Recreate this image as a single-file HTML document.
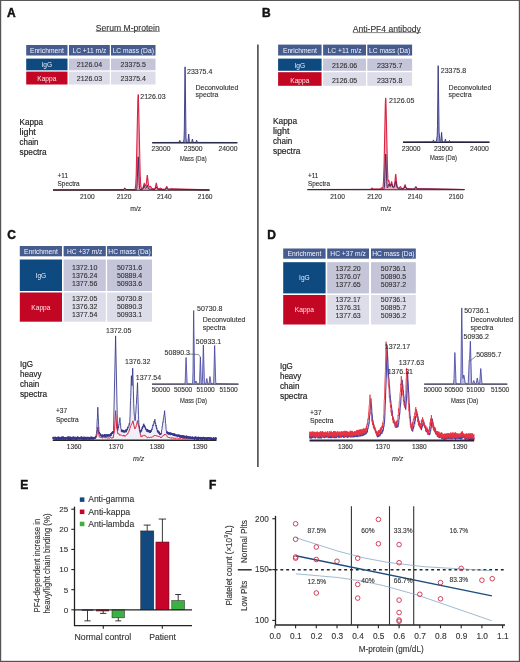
<!DOCTYPE html>
<html><head><meta charset="utf-8"><style>
html,body{margin:0;padding:0;background:#fff;}
body{width:520px;height:662px;overflow:hidden;}
svg{position:absolute;left:0;top:0;will-change:transform;}
text{font-family:"Liberation Sans", sans-serif;}
</style></head><body>
<svg width="520" height="662" viewBox="0 0 520 662">
<rect x="0.00" y="0.00" width="520.00" height="662.00" fill="#fff"/>
<text x="7.00" y="17.00" font-size="12" fill="#111" font-weight="bold" stroke="#111" stroke-width="0.45">A</text>
<text x="262.00" y="17.00" font-size="12" fill="#111" font-weight="bold" stroke="#111" stroke-width="0.45">B</text>
<text x="7.30" y="239.30" font-size="12" fill="#111" font-weight="bold" stroke="#111" stroke-width="0.45">C</text>
<text x="267.30" y="239.30" font-size="12" fill="#111" font-weight="bold" stroke="#111" stroke-width="0.45">D</text>
<text x="20.30" y="488.80" font-size="12" fill="#111" font-weight="bold" stroke="#111" stroke-width="0.45">E</text>
<text x="209.00" y="489.00" font-size="12" fill="#111" font-weight="bold" stroke="#111" stroke-width="0.45">F</text>
<text x="95.80" y="30.70" font-size="8.7" fill="#333" textLength="64" lengthAdjust="spacingAndGlyphs" stroke="#333" stroke-width="0.12">Serum M-protein</text>
<line x1="95.80" y1="31.40" x2="159.70" y2="31.40" stroke="#555" stroke-width="0.7"/>
<text x="352.80" y="31.80" font-size="8.7" fill="#333" textLength="68" lengthAdjust="spacingAndGlyphs" stroke="#333" stroke-width="0.12">Anti-PF4 antibody</text>
<line x1="352.80" y1="32.60" x2="421.00" y2="32.60" stroke="#555" stroke-width="0.7"/>
<line x1="257.90" y1="44.50" x2="257.90" y2="467.00" stroke="#3e3e3e" stroke-width="1.5"/>
<rect x="26.20" y="45.00" width="41.30" height="10.50" fill="#465b8e"/>
<text x="46.85" y="52.75" font-size="6.7" fill="#f4f6ff" text-anchor="middle">Enrichment</text>
<rect x="69.00" y="45.00" width="40.80" height="10.50" fill="#465b8e"/>
<text x="89.40" y="52.75" font-size="6.7" fill="#f4f6ff" text-anchor="middle">LC +11 m/z</text>
<rect x="111.00" y="45.00" width="44.50" height="10.50" fill="#465b8e"/>
<text x="133.25" y="52.75" font-size="6.7" fill="#f4f6ff" text-anchor="middle">LC mass (Da)</text>
<rect x="26.20" y="58.60" width="41.30" height="11.70" fill="#0e4a80"/>
<rect x="26.20" y="71.60" width="41.30" height="12.90" fill="#c20624"/>
<rect x="69.00" y="58.60" width="40.80" height="11.70" fill="#c4c5d8"/>
<rect x="69.00" y="71.60" width="40.80" height="12.90" fill="#dcdde9"/>
<rect x="111.00" y="58.60" width="44.50" height="11.70" fill="#c4c5d8"/>
<rect x="111.00" y="71.60" width="44.50" height="12.90" fill="#dcdde9"/>
<text x="46.85" y="66.95" font-size="6.6" fill="#e4ecfa" text-anchor="middle">IgG</text>
<text x="46.85" y="80.55" font-size="6.6" fill="#fde8ea" text-anchor="middle">Kappa</text>
<text x="89.40" y="66.95" font-size="7" fill="#333" text-anchor="middle" stroke="#333" stroke-width="0.12">2126.04</text>
<text x="89.40" y="80.55" font-size="7" fill="#333" text-anchor="middle" stroke="#333" stroke-width="0.12">2126.03</text>
<text x="133.25" y="66.95" font-size="7" fill="#333" text-anchor="middle" stroke="#333" stroke-width="0.12">23375.5</text>
<text x="133.25" y="80.55" font-size="7" fill="#333" text-anchor="middle" stroke="#333" stroke-width="0.12">23375.4</text>
<rect x="278.10" y="44.60" width="43.50" height="10.90" fill="#465b8e"/>
<text x="299.85" y="52.55" font-size="6.7" fill="#f4f6ff" text-anchor="middle">Enrichment</text>
<rect x="323.10" y="44.60" width="42.90" height="10.90" fill="#465b8e"/>
<text x="344.55" y="52.55" font-size="6.7" fill="#f4f6ff" text-anchor="middle">LC +11 m/z</text>
<rect x="367.30" y="44.60" width="44.80" height="10.90" fill="#465b8e"/>
<text x="389.70" y="52.55" font-size="6.7" fill="#f4f6ff" text-anchor="middle">LC mass (Da)</text>
<rect x="278.10" y="58.60" width="43.50" height="12.20" fill="#0e4a80"/>
<rect x="278.10" y="72.20" width="43.50" height="13.60" fill="#c20624"/>
<rect x="323.10" y="58.60" width="42.90" height="12.20" fill="#c4c5d8"/>
<rect x="323.10" y="72.20" width="42.90" height="13.60" fill="#dcdde9"/>
<rect x="367.30" y="58.60" width="44.80" height="12.20" fill="#c4c5d8"/>
<rect x="367.30" y="72.20" width="44.80" height="13.60" fill="#dcdde9"/>
<text x="299.85" y="67.90" font-size="6.6" fill="#e4ecfa" text-anchor="middle">IgG</text>
<text x="299.85" y="82.70" font-size="6.6" fill="#fde8ea" text-anchor="middle">Kappa</text>
<text x="344.55" y="67.90" font-size="7" fill="#333" text-anchor="middle" stroke="#333" stroke-width="0.12">2126.06</text>
<text x="344.55" y="82.70" font-size="7" fill="#333" text-anchor="middle" stroke="#333" stroke-width="0.12">2126.05</text>
<text x="389.70" y="67.90" font-size="7" fill="#333" text-anchor="middle" stroke="#333" stroke-width="0.12">23375.7</text>
<text x="389.70" y="82.70" font-size="7" fill="#333" text-anchor="middle" stroke="#333" stroke-width="0.12">23375.8</text>
<rect x="19.80" y="246.00" width="42.20" height="10.30" fill="#465b8e"/>
<text x="40.90" y="253.65" font-size="6.7" fill="#f4f6ff" text-anchor="middle">Enrichment</text>
<rect x="63.60" y="246.00" width="42.20" height="10.30" fill="#465b8e"/>
<text x="84.70" y="253.65" font-size="6.7" fill="#f4f6ff" text-anchor="middle">HC +37 m/z</text>
<rect x="107.10" y="246.00" width="44.90" height="10.30" fill="#465b8e"/>
<text x="129.55" y="253.65" font-size="6.7" fill="#f4f6ff" text-anchor="middle">HC mass (Da)</text>
<rect x="19.80" y="259.50" width="42.20" height="31.50" fill="#0e4a80"/>
<rect x="19.80" y="292.50" width="42.20" height="29.20" fill="#c20624"/>
<rect x="63.60" y="259.50" width="42.20" height="31.50" fill="#c4c5d8"/>
<rect x="63.60" y="292.50" width="42.20" height="29.20" fill="#dcdde9"/>
<rect x="107.10" y="259.50" width="44.90" height="31.50" fill="#c4c5d8"/>
<rect x="107.10" y="292.50" width="44.90" height="29.20" fill="#dcdde9"/>
<text x="40.90" y="277.75" font-size="6.6" fill="#e4ecfa" text-anchor="middle">IgG</text>
<text x="40.90" y="309.60" font-size="6.6" fill="#fde8ea" text-anchor="middle">Kappa</text>
<text x="84.70" y="269.50" font-size="7" fill="#333" text-anchor="middle" stroke="#333" stroke-width="0.12">1372.10</text>
<text x="84.70" y="301.20" font-size="7" fill="#333" text-anchor="middle" stroke="#333" stroke-width="0.12">1372.05</text>
<text x="84.70" y="277.80" font-size="7" fill="#333" text-anchor="middle" stroke="#333" stroke-width="0.12">1376.24</text>
<text x="84.70" y="309.40" font-size="7" fill="#333" text-anchor="middle" stroke="#333" stroke-width="0.12">1376.32</text>
<text x="84.70" y="286.00" font-size="7" fill="#333" text-anchor="middle" stroke="#333" stroke-width="0.12">1377.56</text>
<text x="84.70" y="317.20" font-size="7" fill="#333" text-anchor="middle" stroke="#333" stroke-width="0.12">1377.54</text>
<text x="129.55" y="269.50" font-size="7" fill="#333" text-anchor="middle" stroke="#333" stroke-width="0.12">50731.6</text>
<text x="129.55" y="301.20" font-size="7" fill="#333" text-anchor="middle" stroke="#333" stroke-width="0.12">50730.8</text>
<text x="129.55" y="277.80" font-size="7" fill="#333" text-anchor="middle" stroke="#333" stroke-width="0.12">50889.4</text>
<text x="129.55" y="309.40" font-size="7" fill="#333" text-anchor="middle" stroke="#333" stroke-width="0.12">50890.3</text>
<text x="129.55" y="286.00" font-size="7" fill="#333" text-anchor="middle" stroke="#333" stroke-width="0.12">50933.6</text>
<text x="129.55" y="317.20" font-size="7" fill="#333" text-anchor="middle" stroke="#333" stroke-width="0.12">50933.1</text>
<rect x="283.20" y="248.50" width="42.40" height="10.20" fill="#465b8e"/>
<text x="304.40" y="256.10" font-size="6.7" fill="#f4f6ff" text-anchor="middle">Enrichment</text>
<rect x="327.20" y="248.50" width="41.80" height="10.20" fill="#465b8e"/>
<text x="348.10" y="256.10" font-size="6.7" fill="#f4f6ff" text-anchor="middle">HC +37 m/z</text>
<rect x="371.00" y="248.50" width="44.80" height="10.20" fill="#465b8e"/>
<text x="393.40" y="256.10" font-size="6.7" fill="#f4f6ff" text-anchor="middle">HC mass (Da)</text>
<rect x="283.20" y="262.20" width="42.40" height="31.20" fill="#0e4a80"/>
<rect x="283.20" y="295.00" width="42.40" height="29.50" fill="#c20624"/>
<rect x="327.20" y="262.20" width="41.80" height="31.20" fill="#c4c5d8"/>
<rect x="327.20" y="295.00" width="41.80" height="29.50" fill="#dcdde9"/>
<rect x="371.00" y="262.20" width="44.80" height="31.20" fill="#c4c5d8"/>
<rect x="371.00" y="295.00" width="44.80" height="29.50" fill="#dcdde9"/>
<text x="304.40" y="280.30" font-size="6.6" fill="#e4ecfa" text-anchor="middle">IgG</text>
<text x="304.40" y="312.25" font-size="6.6" fill="#fde8ea" text-anchor="middle">Kappa</text>
<text x="348.10" y="271.30" font-size="7" fill="#333" text-anchor="middle" stroke="#333" stroke-width="0.12">1372.20</text>
<text x="348.10" y="302.20" font-size="7" fill="#333" text-anchor="middle" stroke="#333" stroke-width="0.12">1372.17</text>
<text x="348.10" y="279.20" font-size="7" fill="#333" text-anchor="middle" stroke="#333" stroke-width="0.12">1376.07</text>
<text x="348.10" y="310.30" font-size="7" fill="#333" text-anchor="middle" stroke="#333" stroke-width="0.12">1376.31</text>
<text x="348.10" y="287.20" font-size="7" fill="#333" text-anchor="middle" stroke="#333" stroke-width="0.12">1377.65</text>
<text x="348.10" y="318.20" font-size="7" fill="#333" text-anchor="middle" stroke="#333" stroke-width="0.12">1377.63</text>
<text x="393.40" y="271.30" font-size="7" fill="#333" text-anchor="middle" stroke="#333" stroke-width="0.12">50736.1</text>
<text x="393.40" y="302.20" font-size="7" fill="#333" text-anchor="middle" stroke="#333" stroke-width="0.12">50736.1</text>
<text x="393.40" y="279.20" font-size="7" fill="#333" text-anchor="middle" stroke="#333" stroke-width="0.12">50890.5</text>
<text x="393.40" y="310.30" font-size="7" fill="#333" text-anchor="middle" stroke="#333" stroke-width="0.12">50895.7</text>
<text x="393.40" y="287.20" font-size="7" fill="#333" text-anchor="middle" stroke="#333" stroke-width="0.12">50937.2</text>
<text x="393.40" y="318.20" font-size="7" fill="#333" text-anchor="middle" stroke="#333" stroke-width="0.12">50936.2</text>
<text x="19.60" y="124.70" font-size="8.4" fill="#222" textLength="23.5" lengthAdjust="spacingAndGlyphs" stroke="#222" stroke-width="0.18">Kappa</text>
<text x="19.60" y="134.70" font-size="8.4" fill="#222" textLength="16.2" lengthAdjust="spacingAndGlyphs" stroke="#222" stroke-width="0.18">light</text>
<text x="19.60" y="144.70" font-size="8.4" fill="#222" textLength="18.9" lengthAdjust="spacingAndGlyphs" stroke="#222" stroke-width="0.18">chain</text>
<text x="19.60" y="154.70" font-size="8.4" fill="#222" textLength="27.1" lengthAdjust="spacingAndGlyphs" stroke="#222" stroke-width="0.18">spectra</text>
<text x="273.00" y="124.40" font-size="8.4" fill="#222" textLength="24" lengthAdjust="spacingAndGlyphs" stroke="#222" stroke-width="0.18">Kappa</text>
<text x="273.00" y="134.40" font-size="8.4" fill="#222" textLength="16.4" lengthAdjust="spacingAndGlyphs" stroke="#222" stroke-width="0.18">light</text>
<text x="273.00" y="144.40" font-size="8.4" fill="#222" textLength="19.1" lengthAdjust="spacingAndGlyphs" stroke="#222" stroke-width="0.18">chain</text>
<text x="273.00" y="154.40" font-size="8.4" fill="#222" textLength="27.3" lengthAdjust="spacingAndGlyphs" stroke="#222" stroke-width="0.18">spectra</text>
<text x="20.00" y="366.90" font-size="8.4" fill="#222" textLength="13" lengthAdjust="spacingAndGlyphs" stroke="#222" stroke-width="0.18">IgG</text>
<text x="20.00" y="376.90" font-size="8.4" fill="#222" textLength="21.5" lengthAdjust="spacingAndGlyphs" stroke="#222" stroke-width="0.18">heavy</text>
<text x="20.00" y="386.90" font-size="8.4" fill="#222" textLength="19.2" lengthAdjust="spacingAndGlyphs" stroke="#222" stroke-width="0.18">chain</text>
<text x="20.00" y="396.90" font-size="8.4" fill="#222" textLength="27" lengthAdjust="spacingAndGlyphs" stroke="#222" stroke-width="0.18">spectra</text>
<text x="280.00" y="369.20" font-size="8.4" fill="#222" textLength="12.8" lengthAdjust="spacingAndGlyphs" stroke="#222" stroke-width="0.18">IgG</text>
<text x="280.00" y="379.20" font-size="8.4" fill="#222" textLength="21.3" lengthAdjust="spacingAndGlyphs" stroke="#222" stroke-width="0.18">heavy</text>
<text x="280.00" y="389.20" font-size="8.4" fill="#222" textLength="19.4" lengthAdjust="spacingAndGlyphs" stroke="#222" stroke-width="0.18">chain</text>
<text x="280.00" y="399.20" font-size="8.4" fill="#222" textLength="27.4" lengthAdjust="spacingAndGlyphs" stroke="#222" stroke-width="0.18">spectra</text>
<text x="57.60" y="177.60" font-size="6.4" fill="#2e2e2e" stroke="#2e2e2e" stroke-width="0.12">+11</text>
<text x="57.60" y="185.70" font-size="6.4" fill="#2e2e2e" stroke="#2e2e2e" stroke-width="0.12">Spectra</text>
<text x="308.00" y="177.50" font-size="6.4" fill="#2e2e2e" stroke="#2e2e2e" stroke-width="0.12">+11</text>
<text x="308.00" y="185.60" font-size="6.4" fill="#2e2e2e" stroke="#2e2e2e" stroke-width="0.12">Spectra</text>
<text x="55.90" y="413.30" font-size="6.6" fill="#2e2e2e" stroke="#2e2e2e" stroke-width="0.12">+37</text>
<text x="55.90" y="421.50" font-size="6.6" fill="#2e2e2e" stroke="#2e2e2e" stroke-width="0.12">Spectra</text>
<text x="310.00" y="414.80" font-size="6.8" fill="#2e2e2e" stroke="#2e2e2e" stroke-width="0.12">+37</text>
<text x="310.00" y="423.10" font-size="6.8" fill="#2e2e2e" stroke="#2e2e2e" stroke-width="0.12">Spectra</text>
<path d="M53 189.9L123.4 189.6L124 189.2L124.6 188.2L124.8 188.1L125.8 189.4L134.2 189.7L134.6 189.6L135 189L135.4 187.5L135.8 183.6L136.2 175.5L137.8 101.4L138 96.2L138.2 94.4L138.4 96.1L140.2 175.2L140.6 183.2L141 187L141.4 188.4L141.6 188.7L142 188.8L142.6 188.3L143.2 187.2L144 183.9L144.2 183.4L144.4 183.6L145 185.5L145.2 185.9L145.4 186L145.6 185.9L146 185L146.4 182.9L147.2 175.5L147.4 175.5L148.4 184.3L148.8 185.9L149.2 186.6L149.6 186.8L150.4 186.3L150.6 186.4L151.8 188.3L153 188.9L154.2 188.8L154.8 188.4L155.2 187.7L155.8 185.3L156.2 183.2L156.4 183.2L157.2 187.1L157.8 188.4L158.6 188.9L159.4 188.8L160.4 188.1L160.8 188.2L162.2 189.2L164.6 189.3L165.4 188.8L166 187.9L166.6 186.6L166.8 186.6L167.8 188.6L168.6 189.2L169.8 189.2L171 188.7L209.4 189.9 L209.5,190.2 L53,190.2 Z" stroke="none" stroke-width="1" fill="#f4aabb"/>
<path d="M53 189.9L123.4 189.6L124 189.2L124.6 188.2L124.8 188.1L125.8 189.4L134.2 189.7L134.6 189.6L135 189L135.4 187.5L135.8 183.6L136.2 175.5L137.8 101.4L138 96.2L138.2 94.4L138.4 96.1L140.2 175.2L140.6 183.2L141 187L141.4 188.4L141.6 188.7L142 188.8L142.6 188.3L143.2 187.2L144 183.9L144.2 183.4L144.4 183.6L145 185.5L145.2 185.9L145.4 186L145.6 185.9L146 185L146.4 182.9L147.2 175.5L147.4 175.5L148.4 184.3L148.8 185.9L149.2 186.6L149.6 186.8L150.4 186.3L150.6 186.4L151.8 188.3L153 188.9L154.2 188.8L154.8 188.4L155.2 187.7L155.8 185.3L156.2 183.2L156.4 183.2L157.2 187.1L157.8 188.4L158.6 188.9L159.4 188.8L160.4 188.1L160.8 188.2L162.2 189.2L164.6 189.3L165.4 188.8L166 187.9L166.6 186.6L166.8 186.6L167.8 188.6L168.6 189.2L169.8 189.2L171 188.7L209.4 189.9" stroke="#dc2444" stroke-width="1.1" fill="none"/>
<path d="M53 189.9L123.4 189.7L124 189.3L124.8 188.4L125.8 189.5L136.2 189.8L136.4 189.6L136.6 189.2L136.8 188.3L137.2 182.9L138 158.8L138.2 156.8L138.4 158.8L139.2 182.9L139.6 188.2L139.8 189.1L140 189.5L142 189.4L142.8 189L143.4 188L144 186L144.2 185.7L144.4 185.9L145 187.8L145.4 188.3L145.8 188.4L146.2 188.1L146.6 187.3L147.2 185.3L147.4 185.3L148.2 188.1L148.8 189L154 189.6L155 189.2L155.6 188.3L156.2 186.9L156.4 186.9L157.2 188.7L158 189.4L164.8 189.6L165.6 189.2L166.6 187.9L166.8 187.9L167.8 189.2L209.4 189.9" stroke="#3a2058" stroke-width="0.9" fill="none"/>
<line x1="53.00" y1="190.20" x2="209.50" y2="190.20" stroke="#3a2830" stroke-width="1.1"/>
<path d="M307.5 189.5L370.7 189.2L371.5 188.7L371.9 188.2L372.1 188.1L373.3 189.1L379.9 189.1L380.7 188.6L381.3 187.9L381.5 187.8L382.3 188.3L382.5 188.2L382.7 187.9L383.1 186L383.5 181.3L384.1 164.4L385.3 105L385.5 99.7L385.7 97.8L385.9 99.6L387.5 169.8L387.9 178.4L388.1 180.5L388.3 181.3L388.5 181.3L388.7 180.9L388.9 180.8L389.9 185.1L390.1 185.4L390.3 185.5L390.5 185.4L390.9 184.3L391.5 181.8L391.7 181.8L392.5 185.4L392.9 186.3L393.3 186.7L393.7 186.6L394.1 186L394.5 184.6L394.9 182L395.5 175.2L395.7 174.2L395.9 175.3L396.7 183.8L397.3 186.4L397.9 187.5L398.7 188L399.3 187.9L400.3 186.7L400.5 186.8L401.5 188.2L402.5 188.6L403.3 188.4L403.9 187.8L404.9 185.1L405.1 184.9L405.3 185.1L406.1 187.6L406.9 188.6L413.5 189.1L414.5 188.6L415.7 186.9L415.9 186.7L416.1 186.9L417.1 188.5L464.5 189.5 L464.5,189.8 L307.5,189.8 Z" stroke="none" stroke-width="1" fill="#f4aabb"/>
<path d="M307.5 189.5L370.7 189.2L371.5 188.7L371.9 188.2L372.1 188.1L373.3 189.1L379.9 189.1L380.7 188.6L381.3 187.9L381.5 187.8L382.3 188.3L382.5 188.2L382.7 187.9L383.1 186L383.5 181.3L384.1 164.4L385.3 105L385.5 99.7L385.7 97.8L385.9 99.6L387.5 169.8L387.9 178.4L388.1 180.5L388.3 181.3L388.5 181.3L388.7 180.9L388.9 180.8L389.9 185.1L390.1 185.4L390.3 185.5L390.5 185.4L390.9 184.3L391.5 181.8L391.7 181.8L392.5 185.4L392.9 186.3L393.3 186.7L393.7 186.6L394.1 186L394.5 184.6L394.9 182L395.5 175.2L395.7 174.2L395.9 175.3L396.7 183.8L397.3 186.4L397.9 187.5L398.7 188L399.3 187.9L400.3 186.7L400.5 186.8L401.5 188.2L402.5 188.6L403.3 188.4L403.9 187.8L404.9 185.1L405.1 184.9L405.3 185.1L406.1 187.6L406.9 188.6L413.5 189.1L414.5 188.6L415.7 186.9L415.9 186.7L416.1 186.9L417.1 188.5L464.5 189.5" stroke="#dc2444" stroke-width="1.1" fill="none"/>
<path d="M307.5 189.5L383.5 189.3L383.9 189.1L384.1 188.6L384.3 187.6L384.7 181.9L385.5 156.2L385.7 154.1L385.9 156.1L386.7 181.4L387.1 186.8L387.3 187.6L387.5 187.8L387.7 187.6L388.3 185.9L388.7 184.3L388.9 184L389.1 184.2L389.7 186.1L390.1 186.7L390.3 186.7L390.7 186.3L391.5 183.9L391.7 183.9L392.7 187.1L393.1 187.6L393.5 187.7L393.9 187.6L394.3 187.2L394.7 186.2L395.5 181.7L395.7 181.2L395.9 181.8L396.7 186.4L397.3 187.9L398.5 188.8L402.9 189L403.7 188.6L404.3 187.9L404.9 186.6L405.1 186.4L405.3 186.6L406.1 188.2L407.1 189L413.9 189.1L414.9 188.6L415.7 187.6L415.9 187.5L417.3 188.9L464.5 189.5" stroke="#3a2058" stroke-width="0.9" fill="none"/>
<line x1="307.50" y1="189.80" x2="464.50" y2="189.80" stroke="#3a2830" stroke-width="1.1"/>
<text x="87.30" y="199.20" font-size="6.6" fill="#333" text-anchor="middle" stroke="#333" stroke-width="0.12">2100</text>
<text x="124.00" y="199.20" font-size="6.6" fill="#333" text-anchor="middle" stroke="#333" stroke-width="0.12">2120</text>
<text x="164.30" y="199.20" font-size="6.6" fill="#333" text-anchor="middle" stroke="#333" stroke-width="0.12">2140</text>
<text x="205.20" y="199.20" font-size="6.6" fill="#333" text-anchor="middle" stroke="#333" stroke-width="0.12">2160</text>
<text x="337.50" y="199.20" font-size="6.6" fill="#333" text-anchor="middle" stroke="#333" stroke-width="0.12">2100</text>
<text x="374.50" y="199.20" font-size="6.6" fill="#333" text-anchor="middle" stroke="#333" stroke-width="0.12">2120</text>
<text x="415.00" y="199.20" font-size="6.6" fill="#333" text-anchor="middle" stroke="#333" stroke-width="0.12">2140</text>
<text x="456.00" y="199.20" font-size="6.6" fill="#333" text-anchor="middle" stroke="#333" stroke-width="0.12">2160</text>
<text x="135.80" y="210.60" font-size="6.8" fill="#333" text-anchor="middle" stroke="#333" stroke-width="0.12">m/z</text>
<text x="386.00" y="210.60" font-size="6.8" fill="#333" text-anchor="middle" stroke="#333" stroke-width="0.12">m/z</text>
<text x="140.30" y="99.00" font-size="7" fill="#333" stroke="#333" stroke-width="0.12">2126.03</text>
<line x1="138.50" y1="95.00" x2="138.50" y2="98.00" stroke="#c02040" stroke-width="0.8"/>
<text x="389.00" y="102.60" font-size="7" fill="#333" stroke="#333" stroke-width="0.12">2126.05</text>
<path d="M152.2 142.5L179 142.4L179.8 140.3L180.6 142.4L183.3 142.4L183.6 141.9L184 138.7L184.3 130.5L185 69.2L185.1 66.8L186 137.3L186.3 141.9L186.6 142.5L187.7 142.4L187.9 142.1L188.7 134L189.4 141.7L189.7 142.4L191.5 142.4L191.8 141.9L192.3 139.2L192.4 139L193.2 142.4L195.8 142.4L196.6 140.3L197.4 142.4L237.3 142.5 L237.3,142.9 L152.2,142.9 Z" stroke="none" stroke-width="1" fill="#9a9ad0"/>
<path d="M152.2 142.5L179 142.4L179.8 140.3L180.6 142.4L183.3 142.4L183.6 141.9L184 138.7L184.3 130.5L185 69.2L185.1 66.8L186 137.3L186.3 141.9L186.6 142.5L187.7 142.4L187.9 142.1L188.7 134L189.4 141.7L189.7 142.4L191.5 142.4L191.8 141.9L192.3 139.2L192.4 139L193.2 142.4L195.8 142.4L196.6 140.3L197.4 142.4L237.3 142.5" stroke="#2c2c7a" stroke-width="0.85" fill="none"/>
<line x1="152.20" y1="142.90" x2="237.30" y2="142.90" stroke="#23233a" stroke-width="1.3"/>
<text x="161.00" y="151.10" font-size="6.8" fill="#333" text-anchor="middle" stroke="#333" stroke-width="0.12">23000</text>
<text x="193.20" y="151.10" font-size="6.8" fill="#333" text-anchor="middle" stroke="#333" stroke-width="0.12">23500</text>
<text x="228.00" y="151.10" font-size="6.8" fill="#333" text-anchor="middle" stroke="#333" stroke-width="0.12">24000</text>
<text x="193.30" y="160.50" font-size="7.2" fill="#333" text-anchor="middle" textLength="26.6" lengthAdjust="spacingAndGlyphs" stroke="#333" stroke-width="0.12">Mass (Da)</text>
<path d="M403 141.9L432.7 141.8L433.5 139.9L434.3 141.8L436.1 141.8L436.4 141.2L437.2 135.8L437.5 125.7L438.1 68.2L438.2 65.7L439.1 132.2L440 141.4L440.3 141.9L440.6 141.8L440.8 141.5L441.6 132.4L442.3 141.1L442.6 141.8L444.5 141.9L444.8 141.4L445.3 139.3L445.4 139.2L446.2 141.8L448.7 141.8L449.5 140.4L450.3 141.8L489.5 141.9 L489.5,142.3 L403,142.3 Z" stroke="none" stroke-width="1" fill="#9a9ad0"/>
<path d="M403 141.9L432.7 141.8L433.5 139.9L434.3 141.8L436.1 141.8L436.4 141.2L437.2 135.8L437.5 125.7L438.1 68.2L438.2 65.7L439.1 132.2L440 141.4L440.3 141.9L440.6 141.8L440.8 141.5L441.6 132.4L442.3 141.1L442.6 141.8L444.5 141.9L444.8 141.4L445.3 139.3L445.4 139.2L446.2 141.8L448.7 141.8L449.5 140.4L450.3 141.8L489.5 141.9" stroke="#2c2c7a" stroke-width="0.85" fill="none"/>
<line x1="403.00" y1="142.30" x2="489.50" y2="142.30" stroke="#23233a" stroke-width="1.3"/>
<text x="411.20" y="150.50" font-size="6.8" fill="#333" text-anchor="middle" stroke="#333" stroke-width="0.12">23000</text>
<text x="443.40" y="150.50" font-size="6.8" fill="#333" text-anchor="middle" stroke="#333" stroke-width="0.12">23500</text>
<text x="479.40" y="150.50" font-size="6.8" fill="#333" text-anchor="middle" stroke="#333" stroke-width="0.12">24000</text>
<text x="443.50" y="159.90" font-size="7.2" fill="#333" text-anchor="middle" textLength="27" lengthAdjust="spacingAndGlyphs" stroke="#333" stroke-width="0.12">Mass (Da)</text>
<text x="187.00" y="73.70" font-size="7" fill="#333" stroke="#333" stroke-width="0.12">23375.4</text>
<text x="440.80" y="72.90" font-size="7" fill="#333" stroke="#333" stroke-width="0.12">23375.8</text>
<text x="195.50" y="89.60" font-size="7" fill="#333" stroke="#333" stroke-width="0.12">Deconvoluted</text>
<text x="195.50" y="97.20" font-size="7" fill="#333" stroke="#333" stroke-width="0.12">spectra</text>
<text x="448.60" y="89.60" font-size="7" fill="#333" stroke="#333" stroke-width="0.12">Deconvoluted</text>
<text x="448.60" y="97.20" font-size="7" fill="#333" stroke="#333" stroke-width="0.12">spectra</text>
<path d="M52.7 437.6L95 437.6L96.5 434.3L97.8 407.8L99 431.3L101 435.3L110 434.8L113.5 431.3L115.6 336.5L117.5 429.3L118.8 425.3L119.9 418.3L121.2 430.3L125 431.3L127 429.3L128.5 426.3L129.8 422.3L131.4 376.3L132 386.3L132.7 368.8L134 411.3L135 421.3L136.2 406.3L137.5 383.3L138.8 422.8L140.3 432.1L143.8 424.3L146.5 429.8L151 431.3L154.9 419.8L157.2 430.5L161 434.3L164.6 411.3L166.5 432.1L191.8 437.5L216.3 438.3 L216.5,440.1 L52.7,440.1 Z" stroke="none" stroke-width="1" fill="#efeff8"/>
<path d="M52.7 438.8L53.1 438.7L53.5 439L53.9 438.8L54.3 438.7L54.7 439L55.1 439.5L55.9 439.4L56.3 438.8L56.7 439.1L57.1 438.9L57.9 438.7L58.3 438.8L58.7 439.5L59.9 439.4L60.3 438.8L60.7 438.9L61.1 439.2L62.3 439.5L62.7 438.7L63.1 439.2L63.5 439.3L63.9 439.1L64.3 438.8L64.7 439.1L65.1 438.7L65.5 439.5L65.9 439.5L66.7 438.9L67.1 439.5L67.5 439.2L67.9 439.5L68.3 439.4L68.7 439.1L69.1 439L69.5 439.2L70.3 438.8L70.7 438.9L71.1 439.4L71.5 438.6L71.9 438.6L72.3 439.2L72.7 438.9L73.1 439.1L73.9 438.9L74.3 439.6L74.7 438.8L75.1 439L75.5 438.8L75.9 439.2L76.3 438.9L76.7 439L77.1 439.3L77.5 438.9L78.3 439.5L78.7 438.7L79.1 438.7L79.5 438.8L79.9 439.4L80.3 439.2L80.7 438.8L81.1 438.9L81.5 438.8L81.9 439.1L82.3 438.6L82.7 439.3L83.1 439.5L83.5 439.6L83.9 439.3L84.3 439.6L84.7 438.6L85.1 438.9L85.5 439.6L85.9 439.4L86.3 439L86.7 439.5L87.1 439.2L87.5 439.4L87.9 438.9L88.3 438.8L88.7 439L89.1 438.7L89.5 439L89.9 439.6L90.3 438.9L90.7 438.6L91.5 438.8L91.9 439.4L92.3 439L93.1 438.7L93.5 439.6L93.9 439L94.7 438.7L95 438.7L95.5 438L95.9 438L96.3 436.9L96.8 436L97.8 427L98.3 429.7L99.2 436.8L99.5 436.6L99.9 437.5L100.3 437.3L100.7 437.3L101 437.7L101.5 437.3L101.9 437.7L102.3 437.5L102.7 438.2L103.1 438.1L103.9 437.3L104.3 437.6L105.5 437.5L105.9 438.2L106.3 437.4L106.7 437.4L107.1 438.2L107.5 437.9L107.9 438.3L108.3 437.7L108.7 438.2L109.1 438L109.5 438.1L109.9 438L110.7 437.4L111.1 437.5L111.5 438.2L112.3 438.2L112.7 437.6L113 438L114.5 430.8L115.6 410.7L116.8 429L117.1 429.3L117.5 431.9L118 434L118.3 433.9L118.7 433.6L119.1 434.7L119.5 434.3L120 435.5L120.7 434.7L121.1 434.9L121.5 435.4L121.9 435.4L122.7 436L123.1 435.3L123.5 435.2L123.9 436.2L124.3 435.4L124.7 436.3L125 435.6L125.5 435.9L126.3 435.3L126.7 434.6L127.1 434.6L127.5 433.6L128 433.7L128.3 432.5L128.7 432L129.9 428.5L130.3 426.9L130.7 425.8L131 425.6L131.5 424.3L131.9 423.8L132.7 421.2L133 420.8L133.9 425.5L134.7 428.8L135.1 428.8L135.5 428.1L135.9 427L136.3 425.3L136.7 424.2L137.5 420.6L138.3 425.2L138.7 426.3L139.9 432.5L140.7 435.4L141 437.1L141.5 436.7L141.9 435.8L142.3 436.4L142.7 435.5L143.1 435.5L143.5 435.8L143.9 435.2L144.2 435.4L144.7 435.2L145.1 436.2L145.5 435.8L145.9 436.1L146.3 436.8L146.7 436.9L147.5 437.9L147.9 437.7L148.3 437L149.1 437.5L149.5 437.5L149.9 437.7L150.3 437.5L150.7 437.1L151.5 437.5L151.9 436.8L152.3 437L152.7 436.9L153.1 436.3L153.9 435.8L154.3 435.3L154.9 435.5L155.1 435.1L155.5 435.7L155.9 435.3L156.3 436L157.5 436.1L157.9 435.9L158.3 436.7L158.7 436.5L159.1 436.9L159.5 436.5L160.3 436.9L160.7 437.7L161 437.2L161.5 437.5L161.9 436.6L162.3 436.5L162.7 436L163.1 435.9L163.5 435L163.9 435L164.3 435.2L164.9 434L165.1 434.6L165.5 434.6L165.9 434.9L166.3 435L166.7 435.3L167.1 436.6L168.3 437.4L168.8 438L169.1 437.2L169.5 437.7L169.9 437.6L170.3 437.7L170.7 438.2L171.1 438L171.5 438.3L171.9 437.5L172.3 438L173.1 438.2L173.5 438.1L173.9 438.4L174.3 437.9L174.7 438.6L175 438.1L175.5 438.3L175.9 438.6L176.3 438.4L176.7 438L177.1 437.9L177.5 438L178.3 438.7L178.7 438.6L179.1 438.1L179.5 438.1L179.9 438.6L180.3 438L180.7 438.2L181.1 437.8L181.5 437.9L181.9 438.3L182.3 438.4L182.7 438.4L183.1 438.1L183.5 438.7L184.3 437.9L184.7 437.8L185.1 438.7L185.9 438.7L187.1 437.9L187.5 438L187.9 438L188.3 438.7L189.1 438.6L189.5 438L190.3 438.1L190.7 438.8L191.1 438L191.5 438.6L192.3 438.4L192.7 438.8L193.1 438.1L193.5 438.4L193.9 438L194.7 437.9L195.1 438.2L195.5 438L195.9 437.9L196.3 438.8L196.7 438.1L197.1 438.7L197.5 438.6L198.3 438.5L198.7 438.8L199.9 438.4L200.7 438.6L201.5 438.4L201.9 438L202.3 438.7L203.1 438L203.5 438.1L203.9 438.8L204.3 438.2L204.7 438.3L205.5 438.8L205.9 438.3L206.7 438.4L207.1 438L207.5 438.8L207.9 438L208.3 438.9L208.7 438.1L209.1 438.1L209.5 438.8L209.9 438.8L210.3 438.2L210.7 438.5L211.1 438.4L211.5 438.7L211.9 438.2L212.3 438.8L212.7 439L213.1 438.7L213.5 438.9L213.9 438.9L214.3 438.4L214.7 438.8L215.1 438.8L215.5 438.6L215.9 438.1L216.3 438.6" stroke="#e2203c" stroke-width="1.0" fill="none"/>
<path d="M52.7 437L53 438.8L53.3 436.9L53.6 439L53.9 436.9L54.2 439.3L54.5 437.3L54.8 438.6L55.1 436.6L55.4 438.8L55.7 437.2L56 439.7L56.3 437L56.6 439.5L56.9 437L57.2 439.3L57.5 437.3L57.8 439.3L58.1 436.6L58.4 439.2L58.7 436.7L59 439.3L59.3 437.3L59.6 439.4L59.9 436.9L60.2 438.9L60.5 437.4L60.8 439.5L61.1 437L61.4 439.4L61.7 436.6L62 439.4L62.3 436.6L62.6 439L62.9 436.7L63.2 439.1L63.5 436.6L63.8 439.6L64.1 437.3L64.4 438.7L64.7 437.2L65 439.7L65.3 437L65.6 439.3L65.9 437.1L66.2 439.1L66.5 437.1L66.8 439L67.1 436.9L67.4 439.2L67.7 436.6L68 439.3L68.3 436.6L68.6 439.5L68.9 436.5L69.2 439.3L69.5 437.3L69.8 439.5L70.1 436.5L70.4 439.6L70.7 436.9L71 439.4L71.3 437.2L71.6 439.5L71.9 436.9L72.2 438.9L72.5 437.3L72.8 439.5L73.1 436.5L73.4 438.7L73.7 436.7L74 439L74.3 437.3L74.6 438.9L74.9 436.7L75.2 439.6L75.5 437.4L75.8 439.3L76.1 437.4L76.4 439.4L76.7 437.1L77 439.6L77.3 436.5L77.6 439.1L77.9 436.5L78.2 438.9L78.5 437.3L78.8 439.2L79.1 437.4L79.4 438.8L79.7 437L80 439.3L80.3 437.3L80.6 438.6L80.9 436.6L81.2 438.9L81.5 436.5L81.8 439.6L82.1 437.1L82.4 439.1L82.7 436.9L83 439.3L83.3 436.9L83.6 439.2L83.9 436.8L84.2 439.6L84.5 436.9L84.8 439L85.1 436.8L85.4 438.8L85.7 437.1L86 439.7L86.3 436.9L86.6 439.2L86.9 437.4L87.2 439L87.5 436.9L87.8 438.6L88.1 436.8L88.4 439.3L88.7 437.3L89 439.3L89.3 437L89.6 439.3L89.9 437.1L90.2 439.4L90.5 436.7L90.8 438.6L91.1 437.3L91.4 439.3L91.7 436.5L92 438.8L92.3 437L92.6 439.2L92.9 437.1L93.2 439L93.5 437.1L93.8 439L94.1 436.9L94.4 438.9L94.7 437.1L95 437L95.3 438.8L95.6 436.1L95.9 437.2L96.2 434.1L96.5 433.7L96.8 429.5L97.1 421.7L97.4 417.8L97.8 407.2L98 412.9L98.3 417.2L98.6 424.9L99.2 433.5L99.5 432L99.8 434.2L100.1 433L100.4 436L100.7 434.1L101 434.7L101.3 437.2L101.6 434.9L101.9 436.6L102.2 434.4L102.5 437.2L102.8 434.6L103.1 436.4L103.4 434.9L103.7 436.7L104 434.8L104.3 437L104.6 434.1L104.9 436.2L105.2 434.6L105.5 436.9L105.8 434.3L106.1 436.9L106.4 434.5L106.7 436.1L107 434.5L107.3 436.8L107.6 434.5L107.9 436.3L108.2 434.3L108.5 436.3L108.8 434.3L109.1 436.9L109.4 434.5L109.7 435.8L110 434.2L110.3 436.5L110.6 433.2L110.9 436L111.2 433L111.5 435.3L111.8 432L112.1 433.9L112.4 431.5L112.7 434L113 431L113.3 433L113.5 430.7L115.6 335.9L117.5 428.7L117.8 430.4L118.1 426.4L118.4 428.1L118.8 424.7L119 425L119.3 421.2L119.6 421.4L119.9 417.7L120.2 422.4L120.5 423L120.8 428.2L121.2 429.7L121.4 431.8L121.7 429.4L122 432.2L122.3 430.1L122.6 431.9L122.9 429.8L123.2 432.3L123.5 430L123.8 432.3L124.1 430.7L124.4 432.7L124.7 430.3L125 430.7L125.3 432.1L125.6 429.8L125.9 432.4L126.2 429.2L126.5 431.7L126.8 429.3L127 428.7L127.4 430.2L127.7 426.9L128 428.3L128.3 426.3L128.5 425.7L128.9 426.3L129.2 423.5L129.5 424.7L129.8 421.7L130.1 414.8L130.5 400.7L130.7 397.6L131.4 375.7L131.6 380.6L132 385.7L132.2 382.4L132.7 368.2L133.4 390.6L133.7 403.4L134 410.7L134.3 415.3L134.6 416.6L135 420.7L135.2 420.1L135.5 414.6L135.8 412.7L136.2 405.7L136.4 404.5L136.7 396.7L137 393.5L137.5 382.7L138.5 415.3L138.8 422.2L139.1 426.4L139.4 426L139.7 429.4L140 429.9L140.6 432.8L140.9 430L141.2 431.9L141.5 428.9L141.8 430.6L142.1 427.3L142.4 428.9L142.7 426.2L143 427.6L143.3 424.6L143.6 426.2L143.8 423.7L144.2 426.9L144.5 425.1L144.8 427.6L145.1 426.3L145.4 429.3L145.7 427.9L146 430.2L146.3 428.8L146.5 429.2L146.9 431.9L147.2 429L147.5 431.5L147.8 429.2L148.1 432.2L148.4 430L148.7 432L149 430.3L149.3 432.6L149.6 430L149.9 432.9L150.2 430.1L150.5 432.9L150.8 430.4L151 430.7L151.4 431.7L151.7 428.9L152 430L152.3 427.3L152.6 427.7L152.9 424.8L153.2 425.8L153.5 423.6L153.8 424.1L154.1 421.2L154.4 422.4L154.9 419.2L155.3 423.6L155.6 422.7L155.9 426.4L156.2 425L156.5 429.2L156.8 427.6L157.2 429.9L157.4 432.3L157.7 430.1L158 432.3L158.3 430.7L158.6 433.4L158.9 431.4L159.2 433.6L159.5 431.9L159.8 435.1L160.1 433.1L160.4 435L160.7 433.3L161 433.7L161.3 434.3L161.6 430L161.9 429.7L162.2 426.2L162.5 426.4L162.8 421.9L163.1 422.3L163.4 418.4L163.7 418.5L164 414.6L164.3 414.6L164.6 410.7L164.9 415.6L165.2 417.2L165.5 423.2L165.8 423.9L166.1 429.5L166.5 431.5L166.7 433.3L167 431.4L167.3 434.2L167.6 431.6L167.9 434.1L168.2 432L168.5 434.4L168.8 432.2L169.1 434.9L169.4 432.6L169.7 434.1L170 432.3L170.3 435.2L170.6 432.7L170.9 434.9L171.2 432.7L171.5 434.8L171.8 433.2L172.1 434.9L172.4 433.1L172.7 435.3L173 433.6L173.3 435.9L173.6 433.2L173.9 435.6L174.2 433.5L174.5 435.9L174.8 433.6L175.1 436.3L175.4 434.3L175.7 436L176 434.7L176.3 436.5L176.6 434.5L176.9 436.3L177.2 434.7L177.5 436.7L177.8 434.5L178 434.9L178.4 436.7L178.7 434.5L179 437.1L179.3 434.9L179.6 437.2L179.9 434.8L180.2 437.7L180.5 435.2L180.8 437.4L181.1 435.1L181.4 437.9L181.7 435.5L182 437.9L182.3 435.1L182.6 437.7L182.9 435.8L183.2 437.5L183.5 435.5L183.8 438.1L184.1 435.3L184.4 438.4L184.7 436.1L185 437.7L185.3 436.1L185.6 437.8L185.9 435.8L186.2 438.6L186.5 435.7L186.8 438L187.1 435.8L187.4 438.2L187.7 436.3L188 438.7L188.3 436.7L188.6 438.1L188.9 436.1L189.2 438.4L189.5 436.6L189.8 438.8L190.1 436.4L190.4 438.3L190.7 436.8L191 438.8L191.3 436.8L191.6 438.7L191.8 436.9L192.2 439.1L192.5 436.5L192.8 438.9L193.1 436.9L193.4 438.6L193.7 437.1L194 439.3L194.3 437.3L194.6 439.6L194.9 436.6L195.2 438.7L195.5 436.6L195.8 439L196.1 436.7L196.4 439.5L196.7 437.2L197 439.4L197.3 436.9L197.6 439.6L197.9 437.3L198.2 439.5L198.5 436.7L198.8 439.5L199.1 437.1L199.4 438.8L199.7 437.1L200 439.1L200.3 436.9L200.6 439.5L200.9 437.1L201.2 439L201.5 437L201.8 439.5L202.1 437.5L202.4 439.8L202.7 437.1L203 439L203.3 436.8L203.6 439L203.9 437.4L204.2 439.7L204.5 437.2L204.8 439.5L205.1 437.1L205.4 439.4L205.7 437.5L206 439.1L206.3 437.7L206.6 439.8L206.9 437.1L207.2 439.6L207.5 437.1L207.8 439.4L208.1 437.6L208.4 439.4L208.7 437.1L209 439.1L209.3 437.4L209.6 439.3L209.9 437.2L210.2 439.5L210.5 437.6L210.8 439.5L211.1 437.4L211.4 440L211.7 437.6L212 440.1L212.3 437.9L212.6 439.4L212.9 437.9L213.2 439.3L213.5 437.3L213.8 440L214.1 437.9L214.4 439.4L214.7 437.7L215 440.1L215.3 437.3L215.6 440.1L215.9 437.5L216.2 439.4L216.5 437.7" stroke="#34348a" stroke-width="0.85" fill="none"/>
<line x1="52.70" y1="440.20" x2="216.50" y2="440.20" stroke="#262626" stroke-width="1.4"/>
<text x="74.20" y="449.00" font-size="6.6" fill="#333" text-anchor="middle" stroke="#333" stroke-width="0.12">1360</text>
<text x="116.00" y="449.00" font-size="6.6" fill="#333" text-anchor="middle" stroke="#333" stroke-width="0.12">1370</text>
<text x="157.20" y="449.00" font-size="6.6" fill="#333" text-anchor="middle" stroke="#333" stroke-width="0.12">1380</text>
<text x="200.00" y="449.00" font-size="6.6" fill="#333" text-anchor="middle" stroke="#333" stroke-width="0.12">1390</text>
<text x="138.60" y="460.60" font-size="7" fill="#333" text-anchor="middle" font-style="italic" stroke="#333" stroke-width="0.12">m/z</text>
<text x="106.00" y="333.10" font-size="7" fill="#333" stroke="#333" stroke-width="0.12">1372.05</text>
<text x="125.00" y="364.40" font-size="7" fill="#333" stroke="#333" stroke-width="0.12">1376.32</text>
<text x="135.80" y="379.60" font-size="7" fill="#333" stroke="#333" stroke-width="0.12">1377.54</text>
<path d="M309.5 435.6L309.8 438.4L310.1 435.5L310.5 435.7L310.7 438.6L311 435.5L311.3 438.6L311.6 436.1L311.9 438L312.2 435.3L312.5 438.2L312.8 435.3L313.1 437.5L313.4 435.7L313.7 437.7L314 435.6L314.3 438.1L314.6 436L314.9 437.6L315.2 435.8L315.5 438.5L315.8 435.4L316.1 437.5L316.4 435.4L316.7 437.5L317 435.5L317.3 437.5L317.6 436L317.9 438.4L318.2 435.8L318.5 437.5L318.8 435.2L319.1 438.4L319.4 435.7L319.7 438.5L320 435.5L320.3 438.1L320.6 435.8L320.9 438.5L321.2 435.4L321.5 438.5L321.8 435.2L322.1 437.6L322.4 435.6L322.7 437.4L323 435.8L323.3 437.3L323.6 435.6L323.9 438L324.2 435.9L324.5 438.1L324.8 435.6L325.1 437.6L325.4 435.2L325.7 437.8L326 435.6L326.3 437.8L326.6 435.3L326.9 437.2L327.2 435L327.5 437.2L327.8 435.2L328.1 438.2L328.4 435.8L328.7 438.1L329 435.5L329.3 437.8L329.6 435.8L329.9 437.1L330.2 435.6L330.5 438.3L330.8 435.6L331.1 438L331.4 435L331.7 438.3L332 435.5L332.3 437.5L332.6 435.3L332.9 438L333.2 435.6L333.5 438L333.8 435.1L334.1 438.1L334.4 435.7L334.7 438.2L335 435.6L335.3 437.4L335.6 435.2L335.9 438.2L336.2 435.4L336.5 438.2L336.8 435.2L337.1 437.4L337.4 435.4L337.7 437.2L338 435.6L338.3 437.1L338.6 435.1L338.9 438.2L339.2 435.5L339.5 437L339.8 434.8L340.1 437.6L340.4 435.3L340.7 437.2L341 435.2L341.3 437.7L341.6 434.9L341.9 437.5L342.2 435.2L342.5 436.9L342.8 434.8L343.1 436.9L343.4 435.1L343.7 437.9L344 435.4L344.3 437.7L344.6 434.7L344.9 437.6L345.2 434.8L345.5 436.9L345.8 435.1L346.1 436.9L346.4 434.7L346.7 437.1L347 435L347.3 438L347.6 434.7L347.9 437.9L348.2 435L348.5 437.3L348.8 434.8L349.1 437.3L349.4 435.1L349.7 437.1L350 435.2L350.3 437.1L350.6 434.5L350.9 437.8L351.2 434.8L351.5 437.2L351.8 435L352.1 436.6L352.4 435L352.7 437.5L353 434.5L353.3 437L353.6 434.6L353.9 437.5L354.2 434.6L354.5 437.3L354.8 434.5L355.1 436.9L355.4 434.6L355.7 436.8L356 434.7L356.3 437L356.6 434.4L356.9 437.1L357.2 434.6L357.5 437.3L357.8 434.2L358.1 436.7L358.4 434.6L358.7 436.5L359 434.3L359.3 436.6L359.6 434L359.9 436.6L360.2 433.7L360.5 436.5L360.8 433.8L361.1 436.1L361.4 433.4L361.7 436.3L362 433.5L362.3 436.1L362.6 433L363 433.2L363.2 435.7L363.5 432.6L363.8 435.7L364.1 432.6L364.4 434.9L364.7 432.6L365 435L365.3 431.7L365.6 434.2L365.9 431.6L366.2 434.2L366.5 431.3L366.8 433.2L367 431.2L367.4 432.1L367.7 428L368 429.3L368.3 425.4L368.6 426.5L369 422.2L369.2 422.5L369.5 416.1L369.8 415.2L370.1 409.4L370.4 407.3L371 398.2L371.3 404.9L371.6 406.8L371.9 413.4L372.2 414.9L372.8 422.3L373.1 421.8L373.4 425.1L373.7 424.8L374 425.7L374.3 428.4L374.6 427.4L374.9 430L375.2 429.1L375.5 431.4L375.8 430.5L376.1 433.4L376.4 431.9L376.7 435.3L377 433.8L377.3 437.3L377.6 435.2L377.9 436.8L378.2 435L378.5 436.9L378.8 434.8L379.1 436.4L379.4 434.2L379.7 436.5L380 434.2L380.3 435.4L380.6 433.1L380.9 434.5L381.2 432.2L381.5 433.8L381.8 431.1L382.1 433.6L382.4 429.9L382.7 431.9L383 429.2L383.3 430.6L383.6 426.3L383.9 427.2L384.2 423.9L384.5 422.2L384.8 417.1L385.1 406.9L385.4 402.3L385.7 391.4L386.3 376.1L386.6 363L386.9 355.2L387.1 345.2L387.5 354.6L387.8 359L388.1 366.9L388.5 372.2L388.7 377.4L389 379.4L389.3 385.7L389.6 387L389.9 393.6L390.1 394.2L390.5 400L390.8 400.6L391.1 405.1L391.4 405.3L391.8 409.2L392 412.6L392.3 412L392.6 417.1L392.9 416L393.2 420L393.4 419.2L393.8 423.2L394.1 421L394.4 423.9L394.7 422.6L395 426.2L395.3 424L395.6 426.8L396 425.7L396.2 427.9L396.5 425.7L396.8 427.7L397.1 425.1L397.4 426.9L397.7 424.4L398 427.2L398.4 424.2L398.6 424L398.9 419.4L399.2 418.6L399.5 413.4L399.8 413.6L400.1 408.2L400.5 404.2L400.7 403.5L401 397.7L401.3 396.3L401.6 389.4L401.9 387.6L402.3 379.7L402.5 384.1L402.8 384.7L403.1 390.4L403.4 390.8L403.7 396L404 397.2L404.3 402.1L404.6 401.9L404.9 406.3L405.2 406.3L405.6 409.2L405.8 409.1L406.1 403.6L406.7 396.5L407 386.8L407.3 381.9L407.6 371.7L407.9 379.8L408.2 383.3L408.5 390.6L408.8 394.2L409.1 402.7L409.4 405.1L410 415.8L410.3 416.8L410.6 422.3L411 423.7L411.2 426.8L411.5 425.8L411.8 429.8L412.1 428.4L412.5 430.2L412.7 431.7L413 427.9L413.3 429.2L413.6 425.9L413.9 427.4L414.2 423.6L414.5 422.2L414.8 422.8L415.1 418.9L415.4 419.5L415.7 415.9L416 417.3L416.3 413.3L416.6 413.8L416.8 410.7L417.2 415.5L417.5 414L417.8 417.8L418.1 417.5L418.4 421.5L418.7 420.6L419 422.2L419.3 425.1L419.6 424.1L419.9 427.1L420.2 425.2L420.5 428L420.8 427.2L421.2 428.1L421.4 430.3L421.7 426.3L422 428.2L422.3 425.1L422.6 426.5L422.9 422.5L423.2 425L423.6 420.8L423.8 424.1L424.1 422.8L424.4 426.3L424.7 424.7L425 428L425.3 426.1L425.6 430.1L425.9 428.8L426.2 429.5L426.5 431.9L426.8 429.9L427.1 432.5L427.4 430.8L427.7 433.5L428 431.9L428.3 434.5L428.6 432.7L428.9 434.6L429.2 433.2L429.5 435.2L429.8 433.8L430.1 433.8L430.4 430.3L430.7 431.2L431 426.5L431.3 427L431.6 423.4L431.9 423.7L432.2 419.8L432.4 418.7L432.8 423.2L433.1 422.2L433.4 426.4L433.7 426.2L434.1 428.1L434.3 431.1L434.6 429.3L434.9 432.1L435.2 430.1L435.5 433.6L435.8 431.2L436.1 434.3L436.4 432.5L436.7 435.3L437 433.6L437.3 436.6L437.7 434.7L437.9 437.2L438.2 435.2L438.5 437L438.8 435.3L439.1 438L439.4 435.7L439.7 438.2L440 435.6L440.3 437.6L440.6 435.8L440.9 437.9L441.2 436.5L441.5 438.8L441.8 436.7L442.1 439.4L442.4 436.7L442.7 439L443 436.7L443.3 438.9L443.5 437.2L443.9 439.8L444.2 437.5L444.5 439L444.8 436.7L445.1 439.6L445.4 437.2L445.7 438.8L446 436.6L446.3 439.5L446.6 436.6L446.9 438.7L447.2 436.7L447.5 438.9L447.8 437L448.1 438.9L448.4 436.6L448.7 438.8L449 436.7L449.3 436.6L449.6 438.5L449.9 436.3L450.2 439.2L450.5 436.4L450.8 438.9L451.1 436.3L451.4 439L451.7 436.6L452 439.1L452.3 436.5L452.6 438.9L452.9 437L453.2 438.4L453.5 436.9L453.8 438.4L454.1 436.4L454.4 439L454.7 436.5L455 438.4L455.3 436.7L455.6 439.6L455.9 436.6L456.2 439L456.5 436.8L456.8 438.6L457.1 437L457.4 438.6L457.7 436.8L458 439L458.3 436.4L458.6 438.7L458.9 437L459.2 438.8L459.5 437L459.8 438.9L460.1 437L460.4 439.1L460.7 437.2L461 436.8L461.3 439.4L461.6 436.4L461.9 438.9L462.2 435.6L462.5 438.1L462.8 435.2L463.1 437.9L463.4 434.7L463.7 437L464 435.5L464.3 438.2L464.6 436.4L465 437.2L465.2 439.9L465.5 437.5L465.8 439.2L466.1 437.6L466.4 439.3L466.7 437.6L467 439.5L467.3 436.9L467.6 439.5L467.9 437.5L468.2 439.7L468.5 437.5L468.8 440L469.1 437.2L469.4 439.3L469.7 437.6L470 440L470.3 437.1L470.6 440L470.9 437.6L471.2 440.5L471.5 437.9L471.8 439.3L472.1 437.3L472.4 439.8L472.7 437.9L473 440L473.3 437.2L473.6 440L473.9 437.8L474.2 439.5" stroke="#4444a8" stroke-width="1.1" fill="none"/>
<path d="M309.5 432.2L309.8 437.2L310.1 431.6L310.4 436.5L310.7 432.6L311 435.4L311.3 431.9L311.6 436.4L311.9 431.7L312.2 436.2L312.5 431.7L312.8 436L313.1 431.6L313.4 437L313.7 432.3L314 436.6L314.3 431.8L314.6 435.8L314.9 432L315.2 437.2L315.5 432.5L315.8 437.1L316.1 431.8L316.4 437.2L316.7 432.4L317 435.5L317.3 431.5L317.6 437.1L317.9 432.2L318.2 435.5L318.5 432.6L318.8 436.7L319.1 432.4L319.4 437.4L319.7 431.9L320 435.7L320.3 431.7L320.6 436L320.9 431.2L321.2 437.3L321.5 432L321.8 436.7L322.1 431.6L322.4 437L322.7 431.1L323 435.2L323.3 432.2L323.6 436.6L323.9 432.3L324.2 436.5L324.5 432.7L324.8 437.2L325.1 431.9L325.4 435.4L325.7 431.6L326 435.8L326.3 432.5L326.6 436.2L326.9 432.6L327.2 435.6L327.5 431.2L327.8 436.7L328.1 432.8L328.4 436.9L328.7 432.8L329 435.8L329.3 431.1L329.6 436.5L329.9 432.2L330.2 435.9L330.5 432.1L330.8 435.3L331.1 430.9L331.4 435.2L331.7 432L332 436.7L332.3 432L332.6 437.3L332.9 432.3L333.2 437.3L333.5 431.1L333.8 436.5L334.1 431.1L334.4 436L334.7 431.2L335 436.8L335.3 431.7L335.6 436.1L335.9 431.4L336.2 435.9L336.5 432.5L336.8 436.7L337.1 432.2L337.4 436.1L337.7 431.2L338 435.3L338.3 432.6L338.6 435.2L338.9 431.6L339.2 435.7L339.5 432.1L339.8 435.9L340 431.7L340.4 437L340.7 432.1L341 435.8L341.3 431L341.6 436.3L341.9 432.1L342.2 435.9L342.5 431.7L342.8 435.1L343.1 431.8L343.4 435.5L343.7 431L344 435.5L344.3 431.3L344.6 437L344.9 430.8L345.2 435.6L345.5 431.3L345.8 435.4L346.1 431.7L346.4 435.8L346.7 430.9L347 436.8L347.3 431.8L347.6 434.7L347.9 431.5L348.2 434.8L348.5 432.3L348.8 436.4L349.1 432.1L349.4 436.2L349.7 431.6L350 436.7L350.3 430.7L350.6 434.7L350.9 431.9L351.2 436.7L351.5 431.1L351.8 435.5L352.1 430.8L352.4 436.4L352.7 431.3L353 435.5L353.3 432L353.6 435.3L353.9 431.9L354.2 435.9L354.5 431L354.8 434.7L355 431.2L355.4 435.8L355.7 431.8L356 434.4L356.3 430.7L356.6 435.1L356.9 430.1L357.2 435.4L357.5 430.3L357.8 434.1L358.1 429.9L358.4 433.9L358.7 430.2L359 435.6L359.3 429.5L359.6 435.5L359.9 430.2L360.2 434.9L360.5 429.5L360.8 433.5L361.1 429.1L361.4 435.1L361.7 429.9L362 429.7L362.3 434.5L362.6 429.5L362.9 433.1L363.2 428.7L363.5 432.3L363.8 428.3L364.1 434.1L364.4 428.9L364.7 433.7L365 428.9L365.3 433.2L365.6 428.3L366 427.7L366.2 432.2L366.5 425.6L366.8 429.4L367.1 423.6L367.4 424.8L367.7 419.5L368 418.7L368.3 419.8L368.6 411.4L368.9 411.2L369.2 404.9L369.5 404.8L370 394.7L370.4 405.8L370.7 404L371 414.1L371.3 412.5L371.9 421.4L372.2 419.5L372.5 424.9L372.8 422L373 422.2L373.4 427.7L373.7 424.1L374 429.2L374.3 426.4L374.6 429.8L374.9 427.2L375.2 431.3L375.5 428.8L375.8 433.1L376.1 430.8L376.4 434.7L376.6 431.7L377 436L377.3 431.6L377.6 435L377.9 431.7L378.2 435.5L378.5 430.2L378.8 434.9L379 430.7L379.4 433.6L379.7 429.9L380 432.8L380.3 428.4L380.6 433L380.9 427.4L381.2 430.7L381.5 426.8L381.8 430.1L382 425.7L382.4 428L382.7 422.6L383 426.5L383.3 419.5L383.5 418.7L383.9 413.3L384.2 400.6L384.5 398.1L384.8 385.2L385.4 370.6L385.7 355.6L386.1 341.7L386.3 351L386.6 351.9L386.9 361.8L387.2 363.1L387.8 376.2L388.1 377.8L388.4 386L388.7 385.9L389.1 390.7L389.3 397.3L389.6 395.8L389.9 401.8L390.2 401.2L390.5 407.5L390.8 405.7L391.1 412.6L391.4 409.9L391.7 415.8L392 412.4L392.4 415.7L392.6 420.1L392.9 417L393.2 422.6L393.5 417.8L393.8 422.8L394.1 419.7L394.4 424.2L394.7 422.1L395 422.2L395.3 427.5L395.6 422.6L395.9 427L396.2 421L396.5 426L396.8 420.7L397.1 425.6L397.4 420.7L397.7 421.7L398 415.1L398.3 415.8L398.6 408.6L398.9 411.4L399.2 403L399.5 400.7L399.8 400.3L400.1 392.4L400.4 392.2L400.7 383.8L401 385.2L401.3 376.2L401.6 384.8L401.9 382L402.2 390.2L402.5 388.1L402.8 395.1L403 393.7L403.4 401.3L403.7 399.8L404 405.2L404.3 404.1L404.9 407.7L405.2 399.9L405.5 395.7L405.8 393.5L406.1 379.9L406.4 377.4L406.6 368.2L407 380.8L407.3 382.1L407.6 390.5L407.9 393.5L408.2 401.6L408.6 405.7L408.8 411L409.1 410.3L409.4 417.4L409.7 416.9L410 420.2L410.3 425.3L410.6 423.5L410.9 428.3L411.2 426L411.5 426.7L411.8 430.9L412.1 424.5L412.4 427.7L412.7 421.8L413 425.3L413.3 419.5L413.5 418.7L413.9 420.5L414.2 415.9L414.5 418.9L414.8 412.8L415.1 414.9L415.4 408.6L415.8 407.2L416 412.8L416.3 409L416.6 416.4L416.9 412.9L417.2 418L417.5 415.9L417.8 421.9L418 418.7L418.4 425L418.7 420.5L419 426.2L419.3 421.6L419.6 427.3L419.9 423.2L420.2 424.6L420.5 429L420.8 423.4L421.1 427.2L421.4 420.3L421.7 425.2L422 419.4L422.3 422L422.6 417.3L422.9 421.8L423.2 419.5L423.5 425.5L423.8 421.6L424.1 425.5L424.4 423.7L424.7 427.7L425 425.1L425.2 426L425.6 431.4L425.9 426.1L426.2 430.6L426.5 427.8L426.8 431.4L427.1 427.5L427.4 433.8L427.7 429L428 434.7L428.3 429.7L428.6 435L428.8 430.3L429.2 432.3L429.5 426.5L429.8 430L430.1 422.1L430.4 425.6L430.7 418.6L431 422.2L431.4 415.2L431.6 421.3L431.9 418.7L432.2 423.1L432.5 422L432.8 427.5L433.1 424.6L433.4 430L433.7 426.3L434 430.6L434.3 427.5L434.6 432.1L434.9 427.4L435.2 431.8L435.5 428.1L435.8 434.3L436.1 430.8L436.4 434.7L436.7 431.2L437 434.9L437.3 431L437.6 436.9L437.9 432.3L438.2 435.5L438.5 431.7L438.8 437.3L439.1 431.8L439.4 436.6L439.7 433.2L440 437.2L440.3 432.8L440.6 437.9L440.9 432.9L441.2 438L441.5 432.4L441.8 438L442.1 432.8L442.5 433.7L442.7 437.5L443 434.5L443.3 438.8L443.6 434.4L443.9 439L444.2 433.6L444.5 436.8L444.8 433.9L445.1 438.3L445.4 433.6L445.7 438L446 434.1L446.3 438.4L446.6 433.5L446.9 438.4L447.2 433.8L447.5 437.9L447.8 433.2L448.1 437.3L448.3 433.1L448.7 436.4L449 433.1L449.3 438.2L449.6 433.8L449.9 437.4L450.2 434L450.5 438.6L450.8 432.3L451.1 437.9L451.4 433.2L451.7 436.5L452 433.8L452.3 438L452.6 432.6L452.9 438.7L453.2 432.5L453.5 437.4L453.8 433.6L454.1 437.6L454.4 433.5L454.7 437.7L455 432.5L455.3 437.5L455.6 432.4L455.9 438.1L456.2 434.1L456.5 438.2L456.8 433L457.1 437.9L457.4 434.1L457.7 438.5L458 433.3L458.3 437.7L458.6 433.9L458.9 436.6L459.2 434.2L459.5 437L459.8 433.6L460 433.3L460.4 436.5L460.7 433.5L461 437.3L461.3 431.8L461.6 437.1L461.9 432.1L462.2 436.3L462.4 431.2L462.8 436.4L463.1 433L463.4 438L463.7 433.5L464 433.7L464.3 437.3L464.6 434.3L464.9 439.1L465.2 434.3L465.5 437.9L465.8 433.7L466.1 437.8L466.4 433.5L466.7 437.2L467 434L467.3 438.4L467.6 433.7L467.9 438.5L468.2 434.3L468.5 438.6L468.8 433.1L469.1 438.3L469.4 433.7L469.7 439.1L470 434.4L470.3 437.8L470.6 433.2L470.9 437.9L471.2 434.2L471.5 438.1L471.8 433.2L472.1 438.6L472.4 433.4L472.7 437.7L473 434.6L473.3 438.9L473.6 434.5L474 434.2L474.2 438.9" stroke="#e6303f" stroke-width="1.0" fill="none" stroke-opacity="0.82"/>
<line x1="309.50" y1="440.50" x2="474.20" y2="440.50" stroke="#2a2230" stroke-width="2.0"/>
<text x="345.30" y="448.80" font-size="6.6" fill="#333" text-anchor="middle" stroke="#333" stroke-width="0.12">1360</text>
<text x="382.80" y="448.80" font-size="6.6" fill="#333" text-anchor="middle" stroke="#333" stroke-width="0.12">1370</text>
<text x="419.30" y="448.80" font-size="6.6" fill="#333" text-anchor="middle" stroke="#333" stroke-width="0.12">1380</text>
<text x="460.10" y="448.80" font-size="6.6" fill="#333" text-anchor="middle" stroke="#333" stroke-width="0.12">1390</text>
<text x="397.60" y="460.70" font-size="7" fill="#333" text-anchor="middle" font-style="italic" stroke="#333" stroke-width="0.12">m/z</text>
<text x="384.80" y="349.20" font-size="7" fill="#333" stroke="#333" stroke-width="0.12">1372.17</text>
<text x="398.80" y="365.20" font-size="7" fill="#333" stroke="#333" stroke-width="0.12">1377.63</text>
<text x="387.70" y="373.50" font-size="7" fill="#333" stroke="#333" stroke-width="0.12">1376.31</text>
<path d="M152 384L184.6 383.9L184.9 383.5L185.2 381.2L186 358.2L186.1 357.5L187.1 382.4L187.4 383.8L192.3 383.9L192.5 383.6L192.7 382L193 371.6L193.6 313.1L193.7 310.5L194.6 380L194.8 382.9L194.9 383.3L195 383.3L195.9 381.1L196.1 381.1L197.3 383.9L199.1 383.9L199.3 383.7L199.6 381.4L200.3 358L200.4 357L201.3 382.6L201.6 383.8L201.9 383.9L202.1 383.6L202.4 381.6L203.3 346.1L203.4 345L204.4 381.6L204.7 383.6L205.4 384L205.8 383.7L206.7 378.7L206.8 378.5L207.8 383.7L208.6 384L208.9 383.7L209.3 382.1L209.9 376.7L210 376.5L211 383.5L213.2 383.9L213.4 383.6L213.7 381.6L214.6 346.6L214.7 345.5L215.7 381.6L216 383.6L238.5 384 L238.5,384.2 L152,384.2 Z" stroke="none" stroke-width="1" fill="#bcbce0"/>
<path d="M152 384L184.6 383.9L184.9 383.5L185.2 381.2L186 358.2L186.1 357.5L187.1 382.4L187.4 383.8L192.3 383.9L192.5 383.6L192.7 382L193 371.6L193.6 313.1L193.7 310.5L194.6 380L194.8 382.9L194.9 383.3L195 383.3L195.9 381.1L196.1 381.1L197.3 383.9L199.1 383.9L199.3 383.7L199.6 381.4L200.3 358L200.4 357L201.3 382.6L201.6 383.8L201.9 383.9L202.1 383.6L202.4 381.6L203.3 346.1L203.4 345L204.4 381.6L204.7 383.6L205.4 384L205.8 383.7L206.7 378.7L206.8 378.5L207.8 383.7L208.6 384L208.9 383.7L209.3 382.1L209.9 376.7L210 376.5L211 383.5L213.2 383.9L213.4 383.6L213.7 381.6L214.6 346.6L214.7 345.5L215.7 381.6L216 383.6L238.5 384" stroke="#4040a0" stroke-width="0.8" fill="none"/>
<line x1="152.00" y1="384.20" x2="238.50" y2="384.20" stroke="#3a3a48" stroke-width="1.0"/>
<text x="160.80" y="391.90" font-size="6.6" fill="#333" text-anchor="middle" stroke="#333" stroke-width="0.12">50000</text>
<text x="183.10" y="391.90" font-size="6.6" fill="#333" text-anchor="middle" stroke="#333" stroke-width="0.12">50500</text>
<text x="205.60" y="391.90" font-size="6.6" fill="#333" text-anchor="middle" stroke="#333" stroke-width="0.12">51000</text>
<text x="228.60" y="391.90" font-size="6.6" fill="#333" text-anchor="middle" stroke="#333" stroke-width="0.12">51500</text>
<text x="193.50" y="403.00" font-size="7.2" fill="#333" text-anchor="middle" textLength="27" lengthAdjust="spacingAndGlyphs" stroke="#333" stroke-width="0.12">Mass (Da)</text>
<path d="M424.2 384L453.3 383.9L453.6 383.2L454 378.7L454.8 353.2L454.9 352.5L456 381.8L456.4 383.8L460.2 383.9L460.4 383.7L460.6 382.6L460.9 376L461.7 310L461.8 307.9L462.7 374L462.9 378.1L463 378.5L463.7 375.1L463.8 375L464.1 375.9L465.2 383.2L467.7 384L468 383.6L468.3 381.7L469.2 360.2L469.3 359.6L469.4 359.6L469.5 359.7L469.6 359.5L470.3 341.7L470.4 341.1L471.5 381L471.9 383.7L472.3 383.9L472.8 383.4L473.7 380.6L473.8 380.5L475.1 383.8L475.9 383.9L476.3 383.3L477.2 378.1L477.3 378L478.4 383.6L479.1 384L479.4 383.8L479.7 382.9L480.7 368.8L480.8 368.5L481.9 382.9L482.3 383.9L507.3 384 L507.3,384.2 L424.2,384.2 Z" stroke="none" stroke-width="1" fill="#bcbce0"/>
<path d="M424.2 384L453.3 383.9L453.6 383.2L454 378.7L454.8 353.2L454.9 352.5L456 381.8L456.4 383.8L460.2 383.9L460.4 383.7L460.6 382.6L460.9 376L461.7 310L461.8 307.9L462.7 374L462.9 378.1L463 378.5L463.7 375.1L463.8 375L464.1 375.9L465.2 383.2L467.7 384L468 383.6L468.3 381.7L469.2 360.2L469.3 359.6L469.4 359.6L469.5 359.7L469.6 359.5L470.3 341.7L470.4 341.1L471.5 381L471.9 383.7L472.3 383.9L472.8 383.4L473.7 380.6L473.8 380.5L475.1 383.8L475.9 383.9L476.3 383.3L477.2 378.1L477.3 378L478.4 383.6L479.1 384L479.4 383.8L479.7 382.9L480.7 368.8L480.8 368.5L481.9 382.9L482.3 383.9L507.3 384" stroke="#4040a0" stroke-width="0.8" fill="none"/>
<line x1="424.20" y1="384.20" x2="507.30" y2="384.20" stroke="#3a3a48" stroke-width="1.0"/>
<text x="432.80" y="391.90" font-size="6.6" fill="#333" text-anchor="middle" stroke="#333" stroke-width="0.12">50000</text>
<text x="453.70" y="391.90" font-size="6.6" fill="#333" text-anchor="middle" stroke="#333" stroke-width="0.12">50500</text>
<text x="475.60" y="391.90" font-size="6.6" fill="#333" text-anchor="middle" stroke="#333" stroke-width="0.12">51000</text>
<text x="500.10" y="391.90" font-size="6.6" fill="#333" text-anchor="middle" stroke="#333" stroke-width="0.12">51500</text>
<text x="464.60" y="403.00" font-size="7.2" fill="#333" text-anchor="middle" textLength="27" lengthAdjust="spacingAndGlyphs" stroke="#333" stroke-width="0.12">Mass (Da)</text>
<text x="197.00" y="311.00" font-size="7" fill="#333" stroke="#333" stroke-width="0.12">50730.8</text>
<text x="202.70" y="322.40" font-size="7" fill="#333" stroke="#333" stroke-width="0.12">Deconvoluted</text>
<text x="202.70" y="330.20" font-size="7" fill="#333" stroke="#333" stroke-width="0.12">spectra</text>
<text x="195.80" y="344.30" font-size="7" fill="#333" stroke="#333" stroke-width="0.12">50933.1</text>
<text x="164.60" y="355.40" font-size="7" fill="#333" stroke="#333" stroke-width="0.12">50890.3</text>
<path d="M189,354 L198.5,354.5 L200.4,357" stroke="#444" stroke-width="0.6" fill="none"/>
<text x="464.20" y="312.70" font-size="7" fill="#333" stroke="#333" stroke-width="0.12">50736.1</text>
<text x="470.40" y="322.00" font-size="7" fill="#333" stroke="#333" stroke-width="0.12">Deconvoluted</text>
<text x="470.40" y="330.00" font-size="7" fill="#333" stroke="#333" stroke-width="0.12">spectra</text>
<text x="463.50" y="339.20" font-size="7" fill="#333" stroke="#333" stroke-width="0.12">50936.2</text>
<text x="476.20" y="356.50" font-size="7" fill="#333" stroke="#333" stroke-width="0.12">50895.7</text>
<path d="M476,356 L469.5,361.5" stroke="#444" stroke-width="0.6" fill="none"/>
<line x1="74.50" y1="506.60" x2="74.50" y2="626.20" stroke="#222" stroke-width="1.3"/>
<line x1="71.30" y1="609.80" x2="74.50" y2="609.80" stroke="#222" stroke-width="1.1"/>
<text x="68.20" y="612.70" font-size="8.1" fill="#333" text-anchor="end" stroke="#333" stroke-width="0.12">0</text>
<line x1="71.30" y1="589.68" x2="74.50" y2="589.68" stroke="#222" stroke-width="1.1"/>
<text x="68.20" y="592.58" font-size="8.1" fill="#333" text-anchor="end" stroke="#333" stroke-width="0.12">5</text>
<line x1="71.30" y1="569.56" x2="74.50" y2="569.56" stroke="#222" stroke-width="1.1"/>
<text x="68.20" y="572.46" font-size="8.1" fill="#333" text-anchor="end" stroke="#333" stroke-width="0.12">10</text>
<line x1="71.30" y1="549.44" x2="74.50" y2="549.44" stroke="#222" stroke-width="1.1"/>
<text x="68.20" y="552.34" font-size="8.1" fill="#333" text-anchor="end" stroke="#333" stroke-width="0.12">15</text>
<line x1="71.30" y1="529.32" x2="74.50" y2="529.32" stroke="#222" stroke-width="1.1"/>
<text x="68.20" y="532.22" font-size="8.1" fill="#333" text-anchor="end" stroke="#333" stroke-width="0.12">20</text>
<line x1="71.30" y1="509.20" x2="74.50" y2="509.20" stroke="#222" stroke-width="1.1"/>
<text x="68.20" y="512.10" font-size="8.1" fill="#333" text-anchor="end" stroke="#333" stroke-width="0.12">25</text>
<line x1="74.50" y1="625.70" x2="192.00" y2="625.70" stroke="#222" stroke-width="1.3"/>
<line x1="103.30" y1="625.70" x2="103.30" y2="628.80" stroke="#222" stroke-width="1.1"/>
<line x1="162.30" y1="625.70" x2="162.30" y2="628.80" stroke="#222" stroke-width="1.1"/>
<text x="102.90" y="639.60" font-size="8.5" fill="#333" text-anchor="middle" textLength="56.7" lengthAdjust="spacingAndGlyphs" stroke="#333" stroke-width="0.12">Normal control</text>
<text x="162.60" y="639.90" font-size="8.5" fill="#333" text-anchor="middle" textLength="26.8" lengthAdjust="spacingAndGlyphs" stroke="#333" stroke-width="0.12">Patient</text>
<rect x="140.70" y="530.93" width="13.10" height="78.87" fill="#12497f" stroke="#222" stroke-width="0.5"/>
<rect x="155.90" y="542.00" width="13.10" height="67.80" fill="#c8032a" stroke="#222" stroke-width="0.5"/>
<rect x="171.80" y="600.54" width="12.70" height="9.26" fill="#3cb043" stroke="#222" stroke-width="0.5"/>
<line x1="147.20" y1="530.93" x2="147.20" y2="525.09" stroke="#222" stroke-width="0.9"/>
<line x1="143.70" y1="525.09" x2="150.70" y2="525.09" stroke="#222" stroke-width="0.9"/>
<line x1="162.40" y1="542.00" x2="162.40" y2="519.06" stroke="#222" stroke-width="0.9"/>
<line x1="158.70" y1="519.06" x2="166.10" y2="519.06" stroke="#222" stroke-width="0.9"/>
<line x1="178.20" y1="600.54" x2="178.20" y2="594.51" stroke="#222" stroke-width="0.9"/>
<line x1="175.20" y1="594.51" x2="181.20" y2="594.51" stroke="#222" stroke-width="0.9"/>
<rect x="112.00" y="609.80" width="12.50" height="8.05" fill="#3cb043" stroke="#222" stroke-width="0.5"/>
<rect x="96.30" y="609.80" width="12.50" height="1.21" fill="#c8032a" stroke="#222" stroke-width="0.5"/>
<rect x="82.00" y="609.80" width="11.00" height="0.60" fill="#12497f" stroke="#222" stroke-width="0.5"/>
<line x1="87.50" y1="610.40" x2="87.50" y2="620.87" stroke="#222" stroke-width="0.9"/>
<line x1="84.35" y1="620.87" x2="90.65" y2="620.87" stroke="#222" stroke-width="0.9"/>
<line x1="103.20" y1="611.01" x2="103.20" y2="613.42" stroke="#222" stroke-width="0.9"/>
<line x1="100.10" y1="613.42" x2="106.30" y2="613.42" stroke="#222" stroke-width="0.9"/>
<line x1="118.30" y1="617.85" x2="118.30" y2="620.87" stroke="#222" stroke-width="0.9"/>
<line x1="115.30" y1="620.87" x2="121.30" y2="620.87" stroke="#222" stroke-width="0.9"/>
<line x1="74.50" y1="609.80" x2="192.00" y2="609.80" stroke="#222" stroke-width="1.3"/>
<rect x="79.80" y="497.40" width="4.60" height="4.50" fill="#12497f"/>
<text x="88.20" y="502.40" font-size="8.5" fill="#333" textLength="46" lengthAdjust="spacingAndGlyphs" stroke="#333" stroke-width="0.12">Anti-gamma</text>
<rect x="79.80" y="509.55" width="4.60" height="4.50" fill="#c8032a"/>
<text x="88.20" y="514.55" font-size="8.5" fill="#333" textLength="42" lengthAdjust="spacingAndGlyphs" stroke="#333" stroke-width="0.12">Anti-kappa</text>
<rect x="79.80" y="521.70" width="4.60" height="4.50" fill="#3cb043"/>
<text x="88.20" y="526.70" font-size="8.5" fill="#333" textLength="46" lengthAdjust="spacingAndGlyphs" stroke="#333" stroke-width="0.12">Anti-lambda</text>
<g transform="translate(40.1,612.4) rotate(-90)">
<text x="0.00" y="0.00" font-size="9" fill="#333" textLength="93.8" lengthAdjust="spacingAndGlyphs" stroke="#333" stroke-width="0.12">PF4-dependent increase in</text>
</g>
<g transform="translate(50.1,613.5) rotate(-90)">
<text x="0.00" y="0.00" font-size="9" fill="#333" textLength="100" lengthAdjust="spacingAndGlyphs" stroke="#333" stroke-width="0.12">heavy/light chain binding (%)</text>
</g>
<line x1="275.50" y1="515.80" x2="275.50" y2="625.40" stroke="#222" stroke-width="1.3"/>
<line x1="272.30" y1="620.40" x2="275.50" y2="620.40" stroke="#222" stroke-width="1.1"/>
<text x="268.70" y="623.20" font-size="8.7" fill="#333" text-anchor="end" textLength="13.6" lengthAdjust="spacingAndGlyphs" stroke="#333" stroke-width="0.12">100</text>
<line x1="272.30" y1="569.58" x2="275.50" y2="569.58" stroke="#222" stroke-width="1.1"/>
<text x="268.70" y="572.38" font-size="8.7" fill="#333" text-anchor="end" textLength="13.6" lengthAdjust="spacingAndGlyphs" stroke="#333" stroke-width="0.12">150</text>
<line x1="272.30" y1="518.75" x2="275.50" y2="518.75" stroke="#222" stroke-width="1.1"/>
<text x="268.70" y="521.55" font-size="8.7" fill="#333" text-anchor="end" textLength="13.6" lengthAdjust="spacingAndGlyphs" stroke="#333" stroke-width="0.12">200</text>
<line x1="275.50" y1="625.00" x2="505.00" y2="625.00" stroke="#222" stroke-width="1.3"/>
<line x1="274.90" y1="625.00" x2="274.90" y2="628.20" stroke="#222" stroke-width="1.1"/>
<text x="275.20" y="638.80" font-size="8.8" fill="#333" text-anchor="middle" textLength="11.6" lengthAdjust="spacingAndGlyphs" stroke="#333" stroke-width="0.12">0.0</text>
<line x1="295.60" y1="625.00" x2="295.60" y2="628.20" stroke="#222" stroke-width="1.1"/>
<text x="295.90" y="638.80" font-size="8.8" fill="#333" text-anchor="middle" textLength="11.6" lengthAdjust="spacingAndGlyphs" stroke="#333" stroke-width="0.12">0.1</text>
<line x1="316.30" y1="625.00" x2="316.30" y2="628.20" stroke="#222" stroke-width="1.1"/>
<text x="316.60" y="638.80" font-size="8.8" fill="#333" text-anchor="middle" textLength="11.6" lengthAdjust="spacingAndGlyphs" stroke="#333" stroke-width="0.12">0.2</text>
<line x1="337.00" y1="625.00" x2="337.00" y2="628.20" stroke="#222" stroke-width="1.1"/>
<text x="337.30" y="638.80" font-size="8.8" fill="#333" text-anchor="middle" textLength="11.6" lengthAdjust="spacingAndGlyphs" stroke="#333" stroke-width="0.12">0.3</text>
<line x1="357.70" y1="625.00" x2="357.70" y2="628.20" stroke="#222" stroke-width="1.1"/>
<text x="358.00" y="638.80" font-size="8.8" fill="#333" text-anchor="middle" textLength="11.6" lengthAdjust="spacingAndGlyphs" stroke="#333" stroke-width="0.12">0.4</text>
<line x1="378.40" y1="625.00" x2="378.40" y2="628.20" stroke="#222" stroke-width="1.1"/>
<text x="378.70" y="638.80" font-size="8.8" fill="#333" text-anchor="middle" textLength="11.6" lengthAdjust="spacingAndGlyphs" stroke="#333" stroke-width="0.12">0.5</text>
<line x1="399.10" y1="625.00" x2="399.10" y2="628.20" stroke="#222" stroke-width="1.1"/>
<text x="399.40" y="638.80" font-size="8.8" fill="#333" text-anchor="middle" textLength="11.6" lengthAdjust="spacingAndGlyphs" stroke="#333" stroke-width="0.12">0.6</text>
<line x1="419.80" y1="625.00" x2="419.80" y2="628.20" stroke="#222" stroke-width="1.1"/>
<text x="420.10" y="638.80" font-size="8.8" fill="#333" text-anchor="middle" textLength="11.6" lengthAdjust="spacingAndGlyphs" stroke="#333" stroke-width="0.12">0.7</text>
<line x1="440.50" y1="625.00" x2="440.50" y2="628.20" stroke="#222" stroke-width="1.1"/>
<text x="440.80" y="638.80" font-size="8.8" fill="#333" text-anchor="middle" textLength="11.6" lengthAdjust="spacingAndGlyphs" stroke="#333" stroke-width="0.12">0.8</text>
<line x1="461.20" y1="625.00" x2="461.20" y2="628.20" stroke="#222" stroke-width="1.1"/>
<text x="461.50" y="638.80" font-size="8.8" fill="#333" text-anchor="middle" textLength="11.6" lengthAdjust="spacingAndGlyphs" stroke="#333" stroke-width="0.12">0.9</text>
<line x1="481.90" y1="625.00" x2="481.90" y2="628.20" stroke="#222" stroke-width="1.1"/>
<text x="482.20" y="638.80" font-size="8.8" fill="#333" text-anchor="middle" textLength="11.6" lengthAdjust="spacingAndGlyphs" stroke="#333" stroke-width="0.12">1.0</text>
<line x1="502.60" y1="625.00" x2="502.60" y2="628.20" stroke="#222" stroke-width="1.1"/>
<text x="502.90" y="638.80" font-size="8.8" fill="#333" text-anchor="middle" textLength="11.6" lengthAdjust="spacingAndGlyphs" stroke="#333" stroke-width="0.12">1.1</text>
<text x="391.20" y="652.30" font-size="8.8" fill="#333" text-anchor="middle" textLength="64.9" lengthAdjust="spacingAndGlyphs" stroke="#333" stroke-width="0.12">M-protein (gm/dL)</text>
<line x1="351.40" y1="506.20" x2="351.40" y2="625.00" stroke="#333" stroke-width="1.1"/>
<line x1="389.50" y1="506.20" x2="389.50" y2="625.00" stroke="#333" stroke-width="1.1"/>
<line x1="413.70" y1="506.20" x2="413.70" y2="625.00" stroke="#333" stroke-width="1.1"/>
<line x1="268.80" y1="569.80" x2="505.00" y2="569.80" stroke="#262626" stroke-width="1.4" stroke-dasharray="2.9,2.9"/>
<path d="M295.8 537.7L337.8 551.1L363.8 557.9L387.8 562.4L423.8 566.7L491.8 570.7" stroke="#86aac4" stroke-width="0.8" fill="none"/>
<path d="M295.8 573.8L337.8 577.5L361.8 581L383.8 585.7L417.8 595.2L491.8 620.8" stroke="#86aac4" stroke-width="0.8" fill="none"/>
<line x1="295.75" y1="555.75" x2="491.90" y2="595.80" stroke="#1d4d7a" stroke-width="1.3"/>
<circle cx="295.60" cy="523.75" r="2.3" stroke="#c8304c" stroke-width="0.9" fill="none"/>
<circle cx="295.60" cy="539.25" r="2.3" stroke="#c8304c" stroke-width="0.9" fill="none"/>
<circle cx="295.60" cy="557.00" r="2.3" stroke="#c8304c" stroke-width="0.9" fill="none"/>
<circle cx="295.60" cy="558.20" r="2.3" stroke="#c8304c" stroke-width="0.9" fill="none"/>
<circle cx="316.30" cy="547.00" r="2.3" stroke="#c8304c" stroke-width="0.9" fill="none"/>
<circle cx="316.30" cy="559.50" r="2.3" stroke="#c8304c" stroke-width="0.9" fill="none"/>
<circle cx="316.30" cy="593.00" r="2.3" stroke="#c8304c" stroke-width="0.9" fill="none"/>
<circle cx="337.00" cy="561.25" r="2.3" stroke="#c8304c" stroke-width="0.9" fill="none"/>
<circle cx="357.70" cy="558.20" r="2.3" stroke="#c8304c" stroke-width="0.9" fill="none"/>
<circle cx="357.70" cy="584.40" r="2.3" stroke="#c8304c" stroke-width="0.9" fill="none"/>
<circle cx="357.70" cy="598.10" r="2.3" stroke="#c8304c" stroke-width="0.9" fill="none"/>
<circle cx="378.40" cy="519.40" r="2.3" stroke="#c8304c" stroke-width="0.9" fill="none"/>
<circle cx="378.40" cy="543.75" r="2.3" stroke="#c8304c" stroke-width="0.9" fill="none"/>
<circle cx="399.10" cy="544.60" r="2.3" stroke="#c8304c" stroke-width="0.9" fill="none"/>
<circle cx="399.10" cy="562.70" r="2.3" stroke="#c8304c" stroke-width="0.9" fill="none"/>
<circle cx="399.10" cy="600.10" r="2.3" stroke="#c8304c" stroke-width="0.9" fill="none"/>
<circle cx="399.10" cy="612.50" r="2.3" stroke="#c8304c" stroke-width="0.9" fill="none"/>
<circle cx="399.10" cy="620.00" r="2.3" stroke="#c8304c" stroke-width="0.9" fill="none"/>
<circle cx="399.10" cy="621.30" r="2.3" stroke="#c8304c" stroke-width="0.9" fill="none"/>
<circle cx="419.80" cy="594.30" r="2.3" stroke="#c8304c" stroke-width="0.9" fill="none"/>
<circle cx="440.50" cy="582.60" r="2.3" stroke="#c8304c" stroke-width="0.9" fill="none"/>
<circle cx="440.50" cy="598.80" r="2.3" stroke="#c8304c" stroke-width="0.9" fill="none"/>
<circle cx="461.20" cy="568.40" r="2.3" stroke="#c8304c" stroke-width="0.9" fill="none"/>
<circle cx="481.90" cy="580.20" r="2.3" stroke="#c8304c" stroke-width="0.9" fill="none"/>
<circle cx="492.25" cy="578.70" r="2.3" stroke="#c8304c" stroke-width="0.9" fill="none"/>
<text x="307.50" y="533.00" font-size="6.6" fill="#333" stroke="#333" stroke-width="0.12">87.5%</text>
<text x="361.30" y="533.00" font-size="6.6" fill="#333" stroke="#333" stroke-width="0.12">60%</text>
<text x="393.80" y="533.00" font-size="6.6" fill="#333" stroke="#333" stroke-width="0.12">33.3%</text>
<text x="449.50" y="533.00" font-size="6.6" fill="#333" stroke="#333" stroke-width="0.12">16.7%</text>
<text x="307.50" y="583.70" font-size="6.6" fill="#333" stroke="#333" stroke-width="0.12">12.5%</text>
<text x="361.30" y="583.00" font-size="6.6" fill="#333" stroke="#333" stroke-width="0.12">40%</text>
<text x="393.80" y="583.00" font-size="6.6" fill="#333" stroke="#333" stroke-width="0.12">66.7%</text>
<text x="449.50" y="582.00" font-size="6.6" fill="#333" stroke="#333" stroke-width="0.12">83.3%</text>
<g transform="translate(231.8,605.6) rotate(-90)">
<text x="0" y="0" font-size="9" fill="#333" stroke="#333" stroke-width="0.12" textLength="80.2" lengthAdjust="spacingAndGlyphs">Platelet count (×10<tspan dy="-3.4" font-size="6">9</tspan><tspan dy="3.4">/L)</tspan></text>
</g>
<g transform="translate(247.2,563.2) rotate(-90)">
<text x="0.00" y="0.00" font-size="8.8" fill="#333" textLength="43.2" lengthAdjust="spacingAndGlyphs" stroke="#333" stroke-width="0.12">Normal Plts</text>
</g>
<g transform="translate(247.2,611) rotate(-90)">
<text x="0.00" y="0.00" font-size="8.8" fill="#333" textLength="30.3" lengthAdjust="spacingAndGlyphs" stroke="#333" stroke-width="0.12">Low Plts</text>
</g>
<line x1="237.80" y1="569.80" x2="251.70" y2="569.80" stroke="#222" stroke-width="1.4"/>
<rect x="0.00" y="0.00" width="520.00" height="1.00" fill="#585858"/>
<rect x="0.00" y="0.00" width="1.20" height="662.00" fill="#555"/>
<rect x="518.80" y="0.00" width="1.20" height="662.00" fill="#555"/>
<rect x="0.00" y="660.80" width="520.00" height="1.20" fill="#555"/>
</svg>
</body></html>
